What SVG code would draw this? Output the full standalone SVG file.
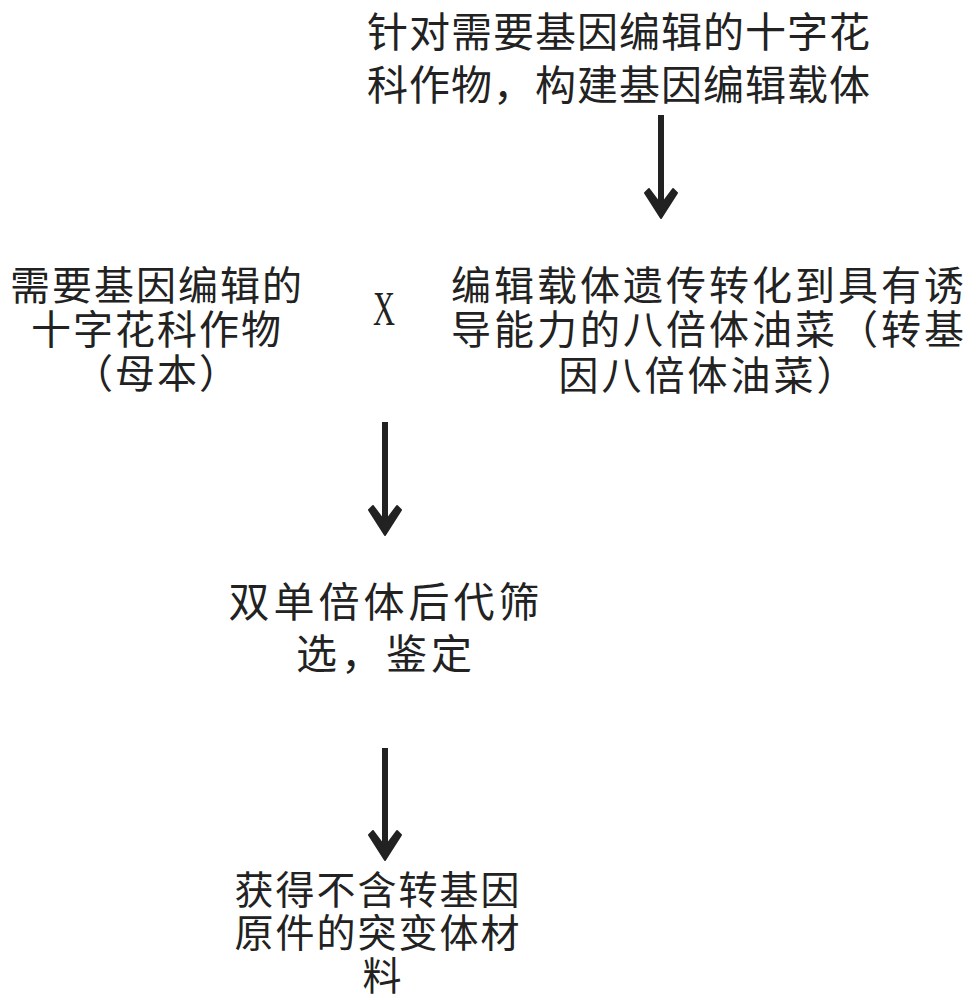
<svg xmlns="http://www.w3.org/2000/svg" width="977" height="1000" viewBox="0 0 977 1000">
<style>
.t{font-family:"Noto Sans CJK SC","Noto Sans",sans-serif;fill:#222;text-anchor:middle}
.s{stroke:#222;stroke-width:6;fill:none}
.h{fill:#222;stroke:#222;stroke-width:2;stroke-linejoin:round}
</style>
<defs>
<path id="ah" d="M0,0 L-16,-25 L-12,-29 L0,-13 L12,-29 L16,-25 Z"/>
</defs>
<rect width="977" height="1000" fill="#fff"/>
<g id="n1"><text class="t" font-size="41" letter-spacing="1"><tspan x="619" y="47">针对需要基因编辑的十字花</tspan><tspan x="619" y="100">科作物，构建基因编辑载体</tspan></text></g>
<g id="n2"><text class="t" font-size="40" letter-spacing="2"><tspan x="157" y="300">需要基因编辑的</tspan><tspan x="157" y="344">十字花科作物</tspan><tspan x="157" y="388">（母本）</tspan></text></g>
<g id="x"><text x="384" y="325" font-family="Liberation Serif,serif" font-size="48" fill="#222" text-anchor="middle" textLength="22" lengthAdjust="spacingAndGlyphs">X</text></g>
<g id="n3"><text class="t" font-size="40" letter-spacing="3"><tspan x="709" y="300">编辑载体遗传转化到具有诱</tspan><tspan x="709" y="344">导能力的八倍体油菜（转基</tspan><tspan x="709" y="390">因八倍体油菜）</tspan></text></g>
<g id="n4"><text class="t" font-size="41" letter-spacing="4"><tspan x="386" y="617">双单倍体后代筛</tspan><tspan x="386" y="669">选，鉴定</tspan></text></g>
<g id="n5"><text class="t" font-size="39" letter-spacing="2"><tspan x="378" y="904">获得不含转基因</tspan><tspan x="378" y="947">原件的突变体材</tspan><tspan x="382" y="990" letter-spacing="0">料</tspan></text></g>
<g id="connectors">
<line class="s" x1="661" y1="115" x2="661" y2="210"/>
<use href="#ah" class="h" transform="translate(661,218)"/>
<line class="s" x1="385" y1="422" x2="385" y2="527"/>
<use href="#ah" class="h" transform="translate(385,535)"/>
<line class="s" x1="385" y1="748" x2="385" y2="852"/>
<use href="#ah" class="h" transform="translate(385,860)"/>
</g>
</svg>
